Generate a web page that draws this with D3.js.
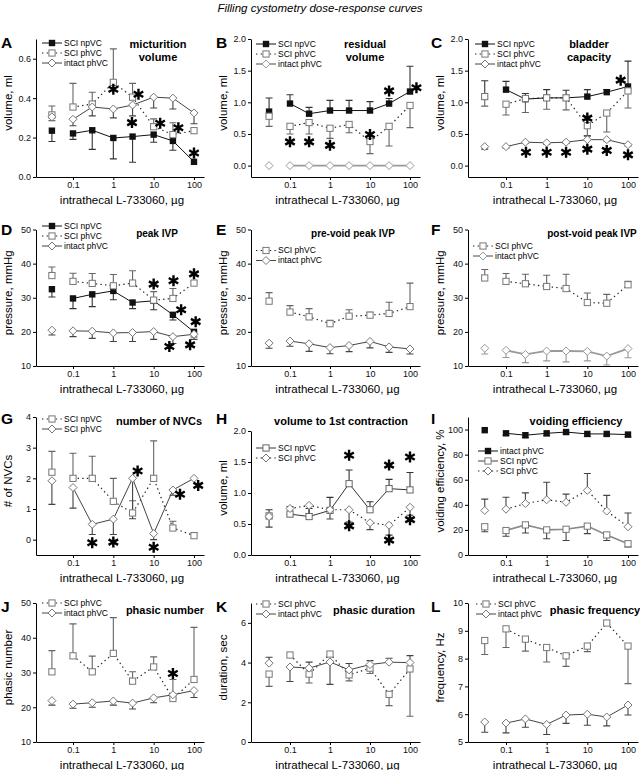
<!DOCTYPE html>
<html><head><meta charset="utf-8">
<script src="https://cdn.jsdelivr.net/npm/d3@7"></script>
<style>
body{margin:0;background:#fff;}
text{font-family:Arial,"Liberation Sans",Helvetica,sans-serif;}
</style></head><body>
<svg id="c" width="640" height="770"></svg>
<script>
// ---------- data ----------
// first entry = control (no drug), drawn unconnected at the left
const doses = [0.03, 0.1, 0.3, 1, 3, 10, 30, 100];
const xTickVals = [0.1, 1, 10, 100];
const xTickLabels = ['0.1', '1', '10', '100'];

// A micturition volume (ml)
const A_npVC = [0.235, 0.221, 0.237, 0.198, 0.205, 0.215, 0.183, 0.077];
const A_npVC_err = [-0.055, -0.03, -0.097, -0.106, -0.13, -0.039, -0.047, 0];
const A_phVC = [0.315, 0.355, 0.37, 0.48, 0.405, 0.255, 0.215, 0.235];
const A_phVC_err = [0.045, 0.12, 0.06, 0.17, 0.07, 0.04, 0.06, 0];
const A_intact = [0.305, 0.293, 0.355, 0.345, 0.365, 0.405, 0.40, 0.325];
const A_intact_err = [-0.02, -0.033, -0.045, -0.045, -0.055, -0.055, -0.055, -0.055];
const A_stars = [[1, 0.445], [4.2, 0.42], [2.9, 0.276], [14.5, 0.273], [41, 0.25], [100, 0.122]];

// B residual volume (ml)
const B_npVC = [0.853, 0.98, 0.82, 0.87, 0.87, 0.87, 0.98, 1.17];
const B_npVC_err = [0.215, 0.14, 0.10, 0.16, 0.16, 0.14, 0.08, 0.40];
const B_phVC = [0.78, 0.62, 0.68, 0.59, 0.65, 0.38, 0.62, 0.95];
const B_phVC_err = [-0.16, -0.12, -0.18, -0.16, -0.13, -0.19, -0.31, -0.35];
const B_intact = [0, 0, 0, 0, 0, 0, 0, 0];
const B_intact_err = [0, 0, 0, 0, 0, 0, 0, 0];
const B_stars = [[0.1, 0.375], [0.3, 0.375], [1, 0.32], [10, 0.49], [30, 1.18], [145, 1.23]];

// C bladder capacity (ml)
const C_npVC = [1.09, 1.2, 1.05, 1.07, 1.07, 1.09, 1.16, 1.25];
const C_npVC_err = [0.25, 0.13, 0.09, 0.13, 0.12, 0.11, 0.04, 0.40];
const C_phVC = [1.09, 0.97, 1.06, 1.07, 1.07, 0.63, 0.83, 1.18];
const C_phVC_err = [-0.15, -0.17, -0.22, -0.18, -0.19, -0.16, -0.30, -0.27];
const C_intact = [0.3, 0.3, 0.37, 0.36, 0.37, 0.41, 0.41, 0.33];
const C_intact_err = [-0.04, -0.02, -0.02, -0.02, -0.02, 0.06, -0.02, -0.02];
const C_stars = [[0.31, 0.21], [1, 0.21], [3, 0.21], [10, 0.26], [30, 0.24], [100, 0.17], [10, 0.75], [66, 1.35]];

// D peak IVP (mmHg)
const D_npVC = [32.5, 29.8, 31.0, 32.0, 28.6, 29.1, 25.0, 20.0];
const D_npVC_err = [-2.3, -3.0, -3.6, -2.6, -1.8, -2.6, -1.5, -1.5];
const D_phVC = [36.5, 34.8, 34.2, 33.5, 34.3, 29.3, 29.8, 34.3];
const D_phVC_err = [2.5, 2.4, 2.9, 3.3, 3.6, 2.5, 2.9, 0.6];
const D_intact = [20.5, 20.3, 20.2, 19.7, 19.8, 20.1, 18.6, 19.3];
const D_intact_err = [-1.4, -1.7, -2.1, -2.5, -2.6, -2.3, -2.0, -1.5];
const D_stars = [[10, 34], [31, 35], [100, 37], [48, 26.5], [110, 23], [24.5, 15.7], [80, 16.2]];

// E pre-void peak IVP (mmHg)
const E_phVC = [29.0, 25.8, 24.4, 22.4, 24.6, 24.9, 25.4, 27.4];
const E_phVC_err = [2.5, 1.9, 2.4, 1.0, 1.9, 0.8, 3.3, 6.9];
const E_intact = [16.7, 17.3, 16.5, 15.4, 16.0, 17.2, 15.6, 15.0];
const E_intact_err = [-1.5, -1.5, -2.2, -1.8, -1.8, -1.9, -1.6, -1.5];

// F post-void peak IVP (mmHg)
const F_phVC = [35.8, 34.8, 34.1, 33.3, 32.7, 28.6, 28.4, 33.8];
const F_phVC_err = [2.5, 2.3, 2.8, 3.3, 4.2, 2.8, 2.6, 1.0];
const F_intact = [15.2, 14.6, 13.4, 14.4, 14.4, 14.3, 12.9, 15.1];
const F_intact_err = [-1.7, -2.1, -2.4, -2.9, -3.2, -2.8, -2.6, -2.7];

// G number of NVCs
const G_npVC = [2.2, 2.0, 2.0, 1.25, 0.87, 2.0, 0.38, 0.13];
const G_npVC_err = [0.68, 0.82, 0.72, 0.75, 0.4, 1.22, 0.22, 0.09];
const G_phVC = [1.92, 1.7, 0.5, 0.67, 2.0, 0.2, 1.62, 2.0];
const G_phVC_err = [-0.77, -0.67, -0.33, -0.5, -1.32, -0.2, -0.17, 0];
const G_stars = [[0.3, -0.1], [1, -0.08], [10, -0.25], [4, 2.24], [45, 1.48], [127, 1.77]];

// H volume to 1st contraction (ml)
const H_npVC = [0.63, 0.66, 0.62, 0.72, 1.15, 0.73, 1.07, 1.05];
const H_npVC_err = [0.1, 0.12, 0.13, 0.21, 0.22, 0.13, 0.15, 0.28];
const H_phVC = [0.62, 0.75, 0.80, 0.73, 0.73, 0.52, 0.48, 0.77];
const H_phVC_err = [-0.17, -0.1, -0.13, -0.15, -0.2, -0.11, -0.16, -0.13];
const H_stars = [[3, 1.61], [30, 1.45], [100, 1.58], [3, 0.47], [30, 0.24], [100, 0.57]];

// I voiding efficiency (%)
const I_intact = [99.5, 97, 95.5, 97, 98, 96.5, 96.5, 96];
const I_intact_err = [0, -1.5, -2, -2, -1.5, -2, -1.5, -2];
const I_npVC = [22.5, 19.5, 24, 20, 20.5, 23, 16, 9];
const I_npVC_err = [-4, -4.5, -6.5, -7, -9, -6, -4.5, -2.5];
const I_phVC = [35.5, 36.5, 41, 44, 42, 51.5, 35, 22.5];
const I_phVC_err = [9, 9.5, 8.5, 14, 6.5, 13.5, 12.5, 11];

// J phasic number
const J_phVC = [30.2, 34.8, 30.2, 35.5, 27.5, 31.6, 22.5, 28];
const J_phVC_err = [6.1, 9.2, 4.5, 10.3, 2.7, 2.9, 5.5, 15];
const J_intact = [21.9, 20.9, 21.3, 21.8, 21.2, 22.7, 23.6, 24.8];
const J_intact_err = [-1.3, -1.2, -1.3, -1.2, -1.7, -1.4, -1.1, -2.0];
const J_stars = [[30, 29.7]];

// K phasic duration (sec)
const K_phVC = [3.42, 4.38, 3.42, 4.43, 3.38, 3.72, 2.4, 3.68];
const K_phVC_err = [-0.62, 0, -0.45, 0, -0.3, -0.27, -0.57, -2.38];
const K_intact = [3.97, 3.78, 3.72, 4.03, 3.63, 3.9, 4.02, 4.0];
const K_intact_err = [0.3, -0.73, 0.3, -1.13, 0.32, 0.2, 0.2, 0.35];

// L phasic frequency (Hz)
const L_phVC = [8.65, 9.07, 8.7, 8.4, 8.1, 8.45, 9.28, 8.45];
const L_phVC_err = [-0.5, -0.67, -0.43, -0.52, -0.38, -0.2, -0.05, -1.35];
const L_intact = [5.72, 5.68, 5.83, 5.63, 5.97, 6.0, 5.9, 6.33];
const L_intact_err = [-0.37, -0.35, -0.3, -0.36, -0.3, -0.4, -0.32, -0.36];

// ---------- styles & layout ----------
const STY = {
  npFill:   {marker: 'sqFill',  dash: null,       line: '#111', lw: 1,   mk: '#111', eb: '#333'},
  sqDot:    {marker: 'sqOpen',  dash: '1.4,3.2',  line: '#222', lw: 1.2, mk: '#777', eb: '#666'},
  sqSolid:  {marker: 'sqOpen',  dash: null,       line: '#333', lw: 1,   mk: '#666', eb: '#333'},
  sqGray:   {marker: 'sqOpen',  dash: null,       line: '#8a8a8a', lw: 1.6, mk: '#777', eb: '#444'},
  diaSolid: {marker: 'diamond', dash: null,       line: '#444', lw: 1,   mk: '#777', eb: '#444'},
  diaGray:  {marker: 'diamond', dash: null,       line: '#9a9a9a', lw: 1.8, mk: '#999', eb: '#999'},
  diaDot:   {marker: 'diamond', dash: '1.4,3.2',  line: '#222', lw: 1.2, mk: '#777', eb: '#444'}
};
const cols = [
  {x0: 0,   ax: 36,  x01: 73,  x100: 194},
  {x0: 213, ax: 251, x01: 290, x100: 410},
  {x0: 426, ax: 468, x01: 506, x100: 628}
];
const rows = [
  {top: 39,    bot: 177, letterY: 47.5, titleY: 48,    titleSize: 11},
  {top: 229.5, bot: 366, letterY: 235,  titleY: 236.5, titleSize: 10},
  {top: 417,   bot: 555, letterY: 424,  titleY: 425,   titleSize: 11},
  {top: 603,   bot: 742, letterY: 612,  titleY: 614,   titleSize: 11}
];
const letterDx = [1, 3, 5];

const panels = [
  {id: 'A', col: 0, row: 0, title: ['micturition', 'volume'], tdx: 158, yTitle: 'volume, ml', domain: [0, 0.7], ticks: [0, 0.2, 0.4, 0.6], fmt: '.1f', leg: {dx: 42, y: 43},
   series: [{name: 'SCI npVC', v: A_npVC, e: A_npVC_err, st: 'npFill'}, {name: 'SCI phVC', v: A_phVC, e: A_phVC_err, st: 'sqDot'}, {name: 'intact phVC', v: A_intact, e: A_intact_err, st: 'diaSolid'}], stars: A_stars},
  {id: 'B', col: 1, row: 0, title: ['residual', 'volume'], tdx: 152, yTitle: 'volume, ml', domain: [-0.18, 2.0], ticks: [0, 0.5, 1, 1.5, 2], fmt: '.1f', leg: {dx: 43, y: 44},
   series: [{name: 'SCI npVC', v: B_npVC, e: B_npVC_err, st: 'npFill'}, {name: 'SCI phVC', v: B_phVC, e: B_phVC_err, st: 'sqDot'}, {name: 'intact phVC', v: B_intact, e: B_intact_err, st: 'diaGray'}], stars: B_stars},
  {id: 'C', col: 2, row: 0, title: ['bladder', 'capacity'], tdx: 163, yTitle: 'volume, ml', domain: [-0.18, 2.0], ticks: [0, 0.5, 1, 1.5, 2], fmt: '.1f', leg: {dx: 49, y: 44},
   series: [{name: 'SCI npVC', v: C_npVC, e: C_npVC_err, st: 'npFill'}, {name: 'SCI phVC', v: C_phVC, e: C_phVC_err, st: 'sqDot'}, {name: 'intact phVC', v: C_intact, e: C_intact_err, st: 'diaSolid'}], stars: C_stars},
  {id: 'D', col: 0, row: 1, title: ['peak IVP'], tdx: 157, yTitle: 'pressure, mmHg', domain: [10, 50], ticks: [10, 20, 30, 40, 50], fmt: 'd', leg: {dx: 42, y: 226},
   series: [{name: 'SCI npVC', v: D_npVC, e: D_npVC_err, st: 'npFill'}, {name: 'SCI phVC', v: D_phVC, e: D_phVC_err, st: 'sqDot'}, {name: 'intact phVC', v: D_intact, e: D_intact_err, st: 'diaSolid'}], stars: D_stars},
  {id: 'E', col: 1, row: 1, title: ['pre-void peak IVP'], tdx: 140, yTitle: 'pressure, mmHg', domain: [10, 50], ticks: [10, 20, 30, 40, 50], fmt: 'd', leg: {dx: 43, y: 250.5},
   series: [{name: 'SCI phVC', v: E_phVC, e: E_phVC_err, st: 'sqDot'}, {name: 'intact phVC', v: E_intact, e: E_intact_err, st: 'diaSolid'}], stars: []},
  {id: 'F', col: 2, row: 1, title: ['post-void peak IVP'], tdx: 166, yTitle: 'pressure, mmHg', domain: [10, 50], ticks: [10, 20, 30, 40, 50], fmt: 'd', leg: {dx: 47, y: 246},
   series: [{name: 'SCI phVC', v: F_phVC, e: F_phVC_err, st: 'sqDot'}, {name: 'intact phVC', v: F_intact, e: F_intact_err, st: 'diaGray'}], stars: []},
  {id: 'G', col: 0, row: 2, title: ['number of NVCs'], tdx: 159, yTitle: '# of NVCs', domain: [-0.5, 4], ticks: [0, 1, 2, 3, 4], fmt: 'd', leg: {dx: 42, y: 419},
   series: [{name: 'SCI npVC', v: G_npVC, e: G_npVC_err, st: 'sqDot'}, {name: 'SCI phVC', v: G_phVC, e: G_phVC_err, st: 'diaSolid'}], stars: G_stars},
  {id: 'H', col: 1, row: 2, top: 431, title: ['volume to 1st contraction'], tdx: 128, yTitle: 'volume, ml', domain: [0, 2.0], ticks: [0, 0.5, 1, 1.5, 2], fmt: '.1f', leg: {dx: 43, y: 448},
   series: [{name: 'SCI npVC', v: H_npVC, e: H_npVC_err, st: 'sqSolid'}, {name: 'SCI phVC', v: H_phVC, e: H_phVC_err, st: 'diaDot'}], stars: H_stars},
  {id: 'I', col: 2, row: 2, title: ['voiding efficiency'], tdx: 150, yTitle: 'voiding efficiency, %', domain: [0, 110], ticks: [0, 20, 40, 60, 80, 100], fmt: 'd', leg: {dx: 52, y: 451},
   series: [{name: 'intact phVC', v: I_intact, e: I_intact_err, st: 'npFill'}, {name: 'SCI npVC', v: I_npVC, e: I_npVC_err, st: 'sqGray'}, {name: 'SCI phVC', v: I_phVC, e: I_phVC_err, st: 'diaDot'}], stars: []},
  {id: 'J', col: 0, row: 3, title: ['phasic number'], tdx: 165, yTitle: 'phasic number', domain: [10, 50], ticks: [10, 20, 30, 40, 50], fmt: 'd', leg: {dx: 42, y: 603},
   series: [{name: 'SCI phVC', v: J_phVC, e: J_phVC_err, st: 'sqDot'}, {name: 'intact phVC', v: J_intact, e: J_intact_err, st: 'diaSolid'}], stars: J_stars},
  {id: 'K', col: 1, row: 3, title: ['phasic duration'], tdx: 161, yTitle: 'duration, sec', domain: [0, 7], ticks: [0, 2, 4, 6], fmt: 'd', leg: {dx: 43, y: 604},
   series: [{name: 'SCI phVC', v: K_phVC, e: K_phVC_err, st: 'sqDot'}, {name: 'intact phVC', v: K_intact, e: K_intact_err, st: 'diaSolid'}], stars: []},
  {id: 'L', col: 2, row: 3, title: ['phasic frequency'], tdx: 169, yTitle: 'frequency, Hz', domain: [5, 10], ticks: [5, 6, 7, 8, 9, 10], fmt: 'd', leg: {dx: 50, y: 604},
   series: [{name: 'SCI phVC', v: L_phVC, e: L_phVC_err, st: 'sqDot'}, {name: 'intact phVC', v: L_intact, e: L_intact_err, st: 'diaSolid'}], stars: []}
];

// ---------- drawing ----------
const svg = d3.select('#c');
svg.append('rect').attr('width', 640).attr('height', 770).attr('fill', '#fff');
svg.append('text').attr('x', 320).attr('y', 12).attr('text-anchor', 'middle')
  .attr('font-size', 11.5).attr('font-style', 'italic').text('Filling cystometry dose-response curves');

function drawMarkers(g, pts, st) {
  const s = STY[st];
  if (s.marker === 'diamond') {
    g.selectAll(null).data(pts).join('path')
      .attr('d', d => `M${d[0]},${d[1] - 4}L${d[0] + 4},${d[1]}L${d[0]},${d[1] + 4}L${d[0] - 4},${d[1]}Z`)
      .attr('fill', '#fff').attr('stroke', s.mk).attr('stroke-width', 1);
  } else {
    const h = s.marker === 'sqFill' ? 3.2 : 3.1;
    g.selectAll(null).data(pts).join('rect')
      .attr('x', d => d[0] - h).attr('y', d => d[1] - h).attr('width', 2 * h).attr('height', 2 * h)
      .attr('fill', s.marker === 'sqFill' ? s.mk : '#fff')
      .attr('stroke', s.marker === 'sqFill' ? 'none' : s.mk).attr('stroke-width', 1);
  }
}

panels.forEach(p => {
  const c = cols[p.col], r = rows[p.row];
  const top = p.top !== undefined ? p.top : r.top;
  const dec = (c.x100 - c.x01) / 3;
  const xr = c.x100 + 10;
  const lo = Math.pow(10, -1 - (c.x01 - c.ax) / dec);
  const hi = Math.pow(10, 2 + (xr - c.x100) / dec);
  const x = d3.scaleLog().domain([lo, hi]).range([c.ax, xr]);
  const y = d3.scaleLinear().domain(p.domain).range([r.bot, top]);
  const g = svg.append('g');

  // axes
  const gx = g.append('g').attr('transform', `translate(0,${r.bot})`)
    .call(d3.axisBottom(x).tickValues(xTickVals).tickFormat((d, i) => xTickLabels[i]).tickSize(3).tickSizeOuter(0).tickPadding(2));
  const gy = g.append('g').attr('transform', `translate(${c.ax},0)`)
    .call(d3.axisLeft(y).tickValues(p.ticks).tickFormat(d3.format(p.fmt)).tickSize(3).tickSizeOuter(0).tickPadding(2));
  [gx, gy].forEach(a => {
    a.attr('font-size', 9).attr('font-family', 'Arial, "Liberation Sans", sans-serif');
    a.selectAll('path,line').attr('stroke', '#000');
    a.selectAll('text').attr('fill', '#111');
  });

  // titles
  g.append('text').attr('x', (c.ax + xr) / 2 + 2).attr('y', r.bot + 27).attr('text-anchor', 'middle')
    .attr('font-size', 11.5).text('intrathecal L-733060, \u00b5g');
  g.append('text').attr('transform', `translate(${c.ax - 24.5},${(r.bot + top) / 2 - 5}) rotate(-90)`)
    .attr('text-anchor', 'middle').attr('font-size', 11.5).text(p.yTitle);
  g.append('text').attr('x', c.x0 + letterDx[p.col]).attr('y', r.letterY)
    .attr('font-size', 15.5).attr('font-weight', 'bold').text(p.id);
  p.title.forEach((t, i) => {
    g.append('text').attr('x', c.x0 + p.tdx).attr('y', r.titleY + i * 13).attr('text-anchor', 'middle')
      .attr('font-size', r.titleSize).attr('font-weight', 'bold').text(t);
  });

  // error bars
  p.series.forEach(s => {
    const st = STY[s.st];
    const eb = g.append('g').attr('stroke', st.eb).attr('stroke-width', 1.1).attr('fill', 'none');
    const pts = doses.map((d, i) => ({d, v: s.v[i], e: s.e[i]})).filter(o => o.e !== 0);
    eb.selectAll(null).data(pts).join('path')
      .attr('d', o => {
        const px = x(o.d), y0 = y(o.v), y1 = y(o.v + o.e);
        return `M${px},${y0}V${y1}M${px - 3.5},${y1}H${px + 3.5}`;
      });
  });
  // lines
  p.series.forEach(s => {
    const st = STY[s.st];
    const line = d3.line().x((d, i) => x(doses[i + 1])).y(d => y(d));
    g.append('path').datum(s.v.slice(1)).attr('d', line).attr('fill', 'none')
      .attr('stroke', st.line).attr('stroke-width', st.lw).attr('stroke-dasharray', st.dash);
  });
  // markers
  p.series.forEach(s => {
    const pts = doses.map((d, i) => [x(d), y(s.v[i])]);
    drawMarkers(g, pts, s.st);
  });
  // significance asterisks
  const star = d3.symbol(d3.symbolAsterisk, 85);
  g.selectAll(null).data(p.stars).join('path')
    .attr('transform', d => `translate(${x(d[0])},${y(d[1])})`)
    .attr('d', star).attr('fill', 'none').attr('stroke', '#000').attr('stroke-width', 2.4);

  // legend
  p.series.forEach((s, i) => {
    const st = STY[s.st];
    const lx = c.x0 + p.leg.dx, ly = p.leg.y + i * 10;
    g.append('line').attr('x1', lx).attr('x2', lx + 20).attr('y1', ly).attr('y2', ly)
      .attr('stroke', st.line).attr('stroke-width', st.lw).attr('stroke-dasharray', st.dash);
    drawMarkers(g, [[lx + 10, ly]], s.st);
    g.append('text').attr('x', lx + 22).attr('y', ly).attr('dy', '0.35em')
      .attr('font-size', 8.5).text(s.name);
  });
});
</script></body></html>
